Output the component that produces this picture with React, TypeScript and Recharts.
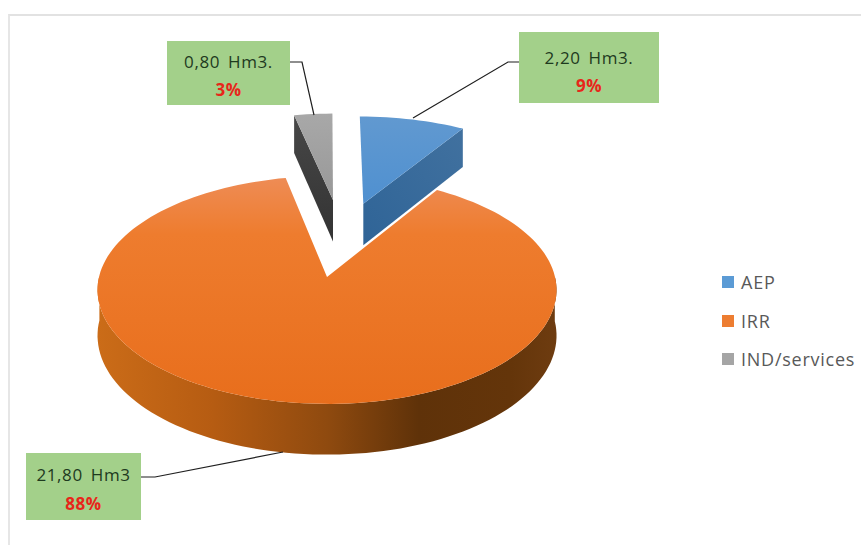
import { Cell, Legend, Pie, PieChart } from "recharts"

const sliceNames = ["AEP", "IRR", "IND/services"]
const sliceVolumes = [2.2, 21.8, 0.8]
const volumeLabels = ["2,20 Hm3.", "21,80 Hm3", "0,80 Hm3."]
const sliceColors = ["#5b9bd5", "#ed7d31", "#a5a5a5"]

const chartData = sliceNames.map((name, i) => ({
  name,
  value: sliceVolumes[i],
  volumeLabel: volumeLabels[i],
}))

// perspective of the tilted disc
const RADIUS = 228
const SQUASH = 0.493
const TILT = -0.114
const DEPTH = 45

// how far each slice is pulled out, in disc radii
const explode: Record<string, { u: number; v: number }> = {
  AEP: { u: 0.172, v: -0.705 },
  IRR: { u: 0, v: 0 },
  "IND/services": { u: 0.0285, v: -0.742 },
}

const callouts: Record<
  string,
  { x: number; y: number; w: number; h: number; line1: number; line2: number; leader: string }
> = {
  AEP: { x: 519, y: 32, w: 140, h: 71, line1: 57, line2: 85, leader: "M519 62 L508 62 L413 118" },
  IRR: { x: 26, y: 453, w: 115, h: 67, line1: 474, line2: 503, leader: "M141 477 L155 477 L283 452" },
  "IND/services": { x: 167, y: 41, w: 123, h: 64, line1: 61, line2: 89, leader: "M290 62 L302 62 L314 115" },
}

const faceIds: Record<string, string> = { AEP: "blue", IRR: "orange", "IND/services": "grey" }

const toPath = (pts: { x: number; y: number }[]) =>
  pts.map((p, i) => `${i ? "L" : "M"}${p.x.toFixed(1)} ${p.y.toFixed(1)}`).join(" ") + " Z"

const Slice3D = (props: any) => {
  const { cx, cy, startAngle, endAngle, name } = props
  const off = explode[name]

  const project = (u: number, v: number) => {
    const w = 1 + TILT * v
    return { x: cx + (RADIUS * u) / w, y: cy + (RADIUS * SQUASH * v) / w, w }
  }
  const onRim = (deg: number) => {
    const a = (deg * Math.PI) / 180
    return project(off.u + Math.cos(a), off.v - Math.sin(a))
  }
  const drop = (p: { x: number; y: number; w: number }) => ({ x: p.x, y: p.y + DEPTH / p.w, w: p.w })

  const steps = Math.ceil(Math.abs(endAngle - startAngle) / 2)
  const angles = Array.from({ length: steps + 1 }, (_, i) => startAngle + ((endAngle - startAngle) * i) / steps)
  const apex = project(off.u, off.v)
  const rim = angles.map(onRim)

  // outer wall: only the part of the rim that faces the viewer
  const frontAngles = angles.filter((deg) => Math.sin((deg * Math.PI) / 180) < 0.02)
  const front = frontAngles.map(onRim)

  const walls: string[] = []
  if (Math.sin(((startAngle + 90) * Math.PI) / 180) < -0.01) {
    const p = onRim(startAngle)
    walls.push(toPath([apex, p, drop(p), drop(apex)]))
  }
  if (Math.sin(((endAngle - 90) * Math.PI) / 180) < -0.01) {
    const p = onRim(endAngle)
    walls.push(toPath([apex, p, drop(p), drop(apex)]))
  }

  const id = faceIds[name]
  return (
    <g>
      {walls.map((d) => (
        <path key={d} d={d} fill={`url(#${id}-wall)`} />
      ))}
      {front.length > 1 && name === "IRR" && (
        <path d={toPath([...front, ...front.map(drop).reverse()])} fill={`url(#${id}-wall)`} />
      )}
      <path d={toPath([apex, ...rim])} fill={`url(#${id}-top)`} />
    </g>
  )
}

const renderCallout = (props: any) => {
  const { name, percent, payload } = props
  const box = callouts[name]
  const cxBox = box.x + box.w / 2
  return (
    <g>
      <path d={box.leader} fill="none" stroke="#1f1f1f" strokeWidth={1.2} />
      <rect x={box.x} y={box.y} width={box.w} height={box.h} fill="#a3d08a" />
      <text
        x={cxBox}
        y={box.line1}
        textAnchor="middle"
        dominantBaseline="central"
        fontFamily="'Open Sans', sans-serif"
        fontSize={17}
        letterSpacing={0.6}
        wordSpacing={3}
        fill="#1e3a1e"
      >
        {payload.volumeLabel}
      </text>
      <text
        x={cxBox}
        y={box.line2}
        textAnchor="middle"
        dominantBaseline="central"
        fontFamily="'Open Sans', sans-serif"
        fontSize={17}
        letterSpacing={0.5}
        fontWeight={700}
        fill="#e8261a"
      >
        {`${Math.round(percent * 100)}%`}
      </text>
    </g>
  )
}

const renderLegend = ({ payload }: any) => (
  <div>
    {(payload ?? []).map((entry: any) => (
      <div
        key={entry.value}
        style={{
          display: "flex",
          alignItems: "center",
          height: 38.5,
          color: "#595959",
          fontSize: 18,
          letterSpacing: 0.75,
          fontFamily: "'Open Sans', sans-serif",
        }}
      >
        <span style={{ width: 12, height: 12, marginRight: 7, background: entry.color }} />
        {entry.value}
      </div>
    ))}
  </div>
)

export default function App() {
  return (
    <div style={{ position: "absolute", left: 0, top: 0, width: 861, height: 545, background: "#fff", overflow: "hidden" }}>
      <div
        style={{
          position: "absolute",
          left: 8,
          top: 14,
          width: 853,
          height: 531,
          borderLeft: "2px solid #e6e6e6",
          borderTop: "2px solid #e2e2e2",
          boxSizing: "border-box",
        }}
      />
      <PieChart width={861} height={545} margin={{ top: 0, right: 0, bottom: 0, left: 0 }}>
        <defs>
          <linearGradient id="orange-top" x1="0" y1="0" x2="0" y2="1">
            <stop offset="0%" stopColor="#ee8c55" />
            <stop offset="25%" stopColor="#ee7c2e" />
            <stop offset="100%" stopColor="#e86e1c" />
          </linearGradient>
          <linearGradient id="orange-wall" x1="0" y1="0" x2="1" y2="0">
            <stop offset="0%" stopColor="#cb6c18" />
            <stop offset="25%" stopColor="#b65c12" />
            <stop offset="50%" stopColor="#8f4a0f" />
            <stop offset="70%" stopColor="#5f3209" />
            <stop offset="90%" stopColor="#64350a" />
            <stop offset="100%" stopColor="#6e3c10" />
          </linearGradient>
          <linearGradient id="blue-top" x1="0" y1="0" x2="0" y2="1">
            <stop offset="0%" stopColor="#6199d0" />
            <stop offset="100%" stopColor="#4f90d0" />
          </linearGradient>
          <linearGradient id="blue-wall" x1="0" y1="1" x2="1" y2="0">
            <stop offset="0%" stopColor="#2f6497" />
            <stop offset="100%" stopColor="#41719f" />
          </linearGradient>
          <linearGradient id="grey-top" x1="0" y1="0" x2="0" y2="1">
            <stop offset="0%" stopColor="#a8a8a8" />
            <stop offset="100%" stopColor="#989898" />
          </linearGradient>
          <linearGradient id="grey-wall" x1="0" y1="0" x2="0" y2="1">
            <stop offset="0%" stopColor="#474747" />
            <stop offset="100%" stopColor="#333333" />
          </linearGradient>
        </defs>
        <Pie
          data={chartData}
          dataKey="value"
          nameKey="name"
          cx={327}
          cy={277}
          outerRadius={RADIUS}
          startAngle={90}
          endAngle={-270}
          stroke="none"
          shape={Slice3D}
          label={renderCallout}
          labelLine={false}
          isAnimationActive={false}
        >
          {chartData.map((entry, i) => (
            <Cell key={entry.name} fill={sliceColors[i]} />
          ))}
        </Pie>
        <Legend
          layout="vertical"
          align="right"
          verticalAlign="middle"
          itemSorter={null}
          content={renderLegend}
          wrapperStyle={{ position: "absolute", left: 722, top: 263, right: "auto", bottom: "auto", width: 139 }}
        />
      </PieChart>
    </div>
  )
}
